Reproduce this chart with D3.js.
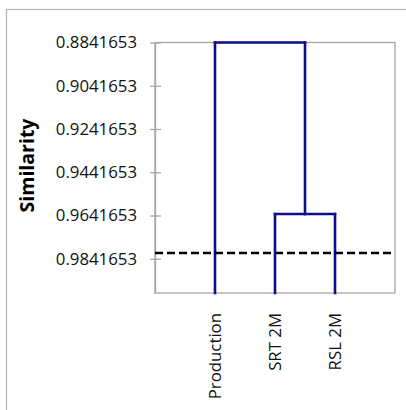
<!DOCTYPE html>
<html>
<head>
<meta charset="utf-8">
<script src="https://cdn.jsdelivr.net/npm/d3@7"></script>
<style>
  html, body { margin: 0; padding: 0; background: #fff; }
  svg { display: block; }
</style>
</head>
<body>
<svg id="chart" width="406" height="410"></svg>
<script>
// ---- data ----
const leaves = ["Production", "SRT 2M", "RSL 2M"];
const leafPositions = [1, 2, 3];
const mergeHeights = [0.9635, 0.8841653];   // SRT 2M+RSL 2M, then with Production
const cutoff = [0.9815];
const tickValues = [0.8841653, 0.9041653, 0.9241653, 0.9441653, 0.9641653, 0.9841653];
const tickLabels = ["0.8841653", "0.9041653", "0.9241653", "0.9441653", "0.9641653", "0.9841653"];
const yDomain = [0.8841653, 1.0];
const xDomain = [0, 4];

const svg = d3.select("#chart");
const plot = { left: 155, top: 42.5, right: 395, bottom: 293 };

// outer chart border (left & top visible)
svg.append("rect")
  .attr("x", 6.5).attr("y", 9.5).attr("width", 440).attr("height", 440)
  .attr("fill", "#fff").attr("stroke", "#b3b3b3").attr("stroke-width", 1.2);

const x = d3.scaleLinear().domain(xDomain).range([plot.left, plot.right]);
const y = d3.scaleLinear().domain(yDomain).range([plot.top, plot.bottom]);

// plot area border
svg.append("rect")
  .attr("x", plot.left).attr("y", plot.top)
  .attr("width", plot.right - plot.left).attr("height", plot.bottom - plot.top)
  .attr("fill", "none").attr("stroke", "#a6a6a6").attr("stroke-width", 1.3);

// y axis
const yAxis = d3.axisLeft(y)
  .tickValues(tickValues)
  .tickFormat((d, i) => tickLabels[i])
  .tickSizeInner(6).tickSizeOuter(0).tickPadding(12);
const gy = svg.append("g").attr("transform", `translate(${plot.left},0)`).call(yAxis);
gy.select(".domain").attr("stroke", "#a6a6a6").attr("stroke-width", 1.3);
gy.selectAll(".tick line").attr("stroke", "#a6a6a6").attr("stroke-width", 1.3).attr("x2", -5).attr("x1", 6);
gy.selectAll(".tick text")
  .attr("font-family", "'Open Sans', sans-serif").attr("font-size", 16.8)
  .attr("fill", "#111");

// y axis title
svg.append("text")
  .attr("transform", `translate(34,${(118 + 213) / 2}) rotate(-90)`)
  .attr("text-anchor", "middle")
  .attr("font-family", "'Open Sans', sans-serif").attr("font-weight", "bold")
  .attr("font-size", 19.5).attr("fill", "#000")
  .text("Similarity");

// category labels
svg.selectAll("text.cat").data(leaves).enter().append("text")
  .attr("class", "cat")
  .attr("transform", (d, i) => `translate(${x(leafPositions[i]) + 6},313) rotate(-90)`)
  .attr("text-anchor", "end")
  .attr("font-family", "'Open Sans', sans-serif").attr("font-size", 16.8)
  .attr("fill", "#111")
  .text(d => d);

// dendrogram
const blue = "#0d0d8c";
const lw = 2.6;
const mid = (leafPositions[1] + leafPositions[2]) / 2;
const segs = [
  [leafPositions[1], yDomain[1], leafPositions[1], mergeHeights[0]],
  [leafPositions[2], yDomain[1], leafPositions[2], mergeHeights[0]],
  [leafPositions[1], mergeHeights[0], leafPositions[2], mergeHeights[0]],
  [mid, mergeHeights[0], mid, mergeHeights[1]],
  [leafPositions[0], yDomain[1], leafPositions[0], mergeHeights[1]],
  [leafPositions[0], mergeHeights[1], mid, mergeHeights[1]]
];
svg.append("g").selectAll("line").data(segs).enter().append("line")
  .attr("x1", d => x(d[0])).attr("y1", d => y(d[1]))
  .attr("x2", d => x(d[2])).attr("y2", d => y(d[3]))
  .attr("stroke", blue).attr("stroke-width", lw).attr("stroke-linecap", "square");

// cutoff line
svg.append("line")
  .attr("x1", x(xDomain[0])).attr("x2", x(xDomain[1]))
  .attr("y1", y(cutoff[0])).attr("y2", y(cutoff[0]))
  .attr("stroke", "#000").attr("stroke-width", 2.4)
  .attr("stroke-dasharray", "8,4");
</script>
</body>
</html>
